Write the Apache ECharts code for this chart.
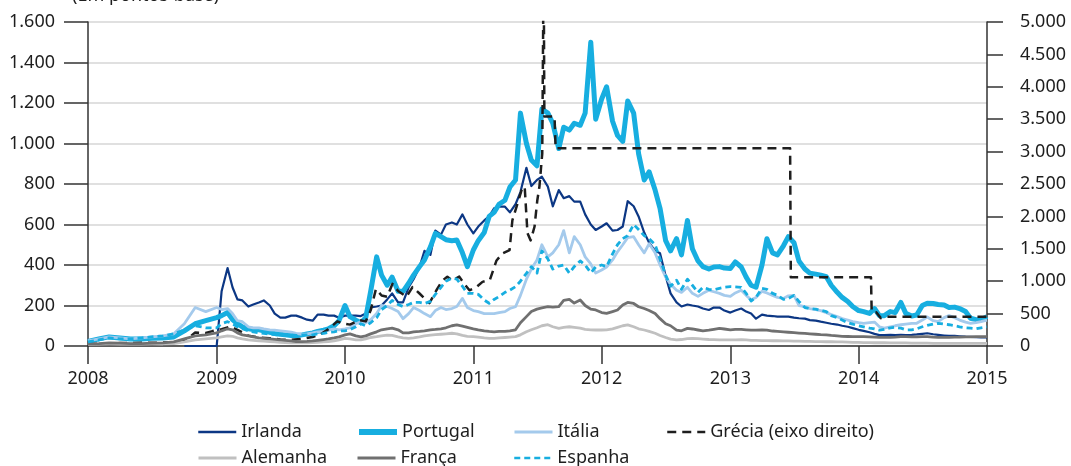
<!DOCTYPE html>
<html>
<head>
<meta charset="utf-8">
<script src="https://cdn.jsdelivr.net/npm/echarts@6/dist/echarts.min.js"></script>
<style>
html,body{margin:0;padding:0;background:#fff;}
#grafico{width:1071px;height:466px;}
</style>
</head>
<body>
<div id="grafico"></div>
<script>
// datas: mensal em 2008, quinzenal de 2009 a 2014, e 1/1/2015
var datas = [];
function dois(n){ return n < 10 ? '0' + n : '' + n; }
for (var m = 1; m <= 12; m++) datas.push('2008-' + dois(m) + '-01');
for (var a = 2009; a <= 2014; a++) {
	for (var m2 = 1; m2 <= 12; m2++) {
		datas.push(a + '-' + dois(m2) + '-01');
		datas.push(a + '-' + dois(m2) + '-15');
	}
}
datas.push('2015-01-01');

// valores em pontos base (eixo esquerdo)
var irlanda = [
	null,null,null,null,null,null,null,null,null,0,0,0,
	0,270,385,290,230,225,195,205,215,225,200,160,140,140,150,150,140,130,125,155,155,150,150,140,
	150,150,150,148,160,190,195,200,230,260,215,215,290,330,390,470,450,570,550,600,610,600,650,600,
	556,590,620,640,680,688,688,660,700,760,880,790,820,836,787,690,770,730,740,713,713,650,600,573,
	590,606,570,573,590,715,690,640,560,510,470,458,345,260,215,195,205,200,195,185,178,190,190,175,
	165,175,185,170,160,135,155,150,148,145,145,145,140,137,135,128,125,120,115,110,106,100,95,88,
	80,75,68,60,54,54,55,54,55,54,55,57,60,63,58,55,52,50,50,48,46,45,44,43,
	43
];
var portugal = [
	22,35,45,40,35,35,38,40,45,75,110,125,
	140,150,165,130,110,95,85,82,80,75,68,62,58,55,52,50,55,60,65,72,78,85,100,125,
	200,145,128,115,140,270,440,350,300,340,270,270,310,350,392,425,490,556,540,525,520,523,460,392,
	474,520,560,640,660,700,720,785,820,1150,1000,918,890,1170,1150,1100,975,1080,1066,1100,1090,1150,1500,1120,
	1220,1280,1110,1040,1010,1210,1150,950,820,860,770,680,520,470,530,450,620,480,420,392,380,390,392,385,
	383,415,390,340,300,290,400,530,460,450,495,540,510,420,380,360,355,350,342,300,265,240,220,195,
	175,170,161,185,150,150,170,165,215,161,148,153,200,211,210,205,202,190,192,185,170,137,130,130,
	145
];
var italia = [
	25,35,45,40,35,40,45,50,60,110,190,170,
	190,180,185,160,125,120,95,90,90,85,80,78,75,72,68,62,58,60,65,70,72,78,85,80,
	85,90,110,120,115,130,160,200,195,185,170,135,160,190,175,160,145,175,190,180,185,195,235,190,
	175,170,160,160,160,165,170,185,194,250,330,380,425,500,440,460,500,570,460,540,500,440,405,360,
	375,390,425,465,500,535,540,500,460,505,460,400,340,305,275,265,290,260,245,260,275,268,260,250,
	245,262,275,250,228,240,270,262,250,240,235,248,250,200,195,185,180,175,165,155,145,135,128,120,
	115,112,115,118,95,88,95,100,105,108,112,112,128,143,125,120,140,150,140,128,118,112,115,120,
	128
];
var alemanha = [
	8,9,10,10,9,9,10,10,12,20,30,35,
	40,45,50,48,40,35,30,28,25,24,22,20,18,17,16,15,15,16,17,18,20,22,25,30,
	38,35,30,30,35,42,46,50,54,52,45,40,38,40,45,50,54,56,58,60,63,60,52,48,
	46,44,40,38,38,40,42,44,46,55,70,80,90,100,105,95,87,92,95,92,88,82,80,79,
	79,80,85,92,100,104,95,85,79,72,63,52,42,34,30,32,36,38,36,34,32,31,30,30,
	30,30,31,30,28,28,27,27,26,26,25,25,24,24,23,23,22,22,21,21,20,20,19,18,
	18,17,17,16,16,16,15,15,15,15,14,14,14,14,13,13,13,13,13,13,13,13,13,13,
	13
];
var franca = [
	10,12,15,14,12,12,14,15,20,35,50,55,
	65,75,85,80,65,55,50,45,40,38,35,33,30,28,25,22,22,23,25,28,32,35,40,45,
	55,60,50,45,50,60,70,80,85,88,80,65,65,70,72,75,80,82,85,90,100,104,98,92,
	85,80,75,72,70,72,72,75,80,115,145,170,182,188,194,192,194,225,230,212,227,200,182,178,
	165,161,170,178,202,215,210,194,185,175,160,135,110,100,78,75,87,84,79,75,78,82,87,84,
	80,82,82,80,78,78,80,78,74,72,70,68,66,64,62,60,58,56,55,52,50,48,47,46,
	46,46,45,44,43,43,43,44,46,46,45,45,46,46,44,43,43,43,44,44,45,45,46,46,
	46
];
var espanha = [
	20,30,40,35,35,40,45,50,60,80,100,90,
	90,110,120,110,95,85,75,70,65,62,58,56,55,55,55,52,55,55,55,60,62,68,70,75,
	75,80,95,110,100,115,140,180,200,225,205,195,205,215,215,210,220,255,290,320,335,330,295,260,
	260,255,227,211,230,244,265,276,293,320,359,392,360,470,430,380,395,400,360,392,420,400,362,390,
	400,392,455,500,530,545,600,575,545,530,500,430,350,295,325,280,330,300,265,290,280,278,285,290,
	293,292,290,260,222,240,285,280,260,250,230,235,250,220,190,185,182,176,170,150,140,128,115,108,
	100,95,88,85,78,82,90,92,88,80,80,85,95,102,108,112,108,105,100,95,90,88,85,90,
	95
];

// Grécia no eixo direito, com as suas próprias datas
var greciaDatas = [
	'2008-01-01','2008-04-01','2008-07-01','2008-09-15','2008-10-15','2008-11-01','2008-12-01','2008-12-20',
	'2009-01-15','2009-02-10','2009-03-01','2009-04-01','2009-05-01','2009-06-01','2009-07-01','2009-08-01',
	'2009-09-01','2009-10-01','2009-10-20','2009-11-15','2009-12-10','2009-12-25',
	'2010-01-15','2010-02-10','2010-03-01','2010-03-15','2010-03-30','2010-04-15','2010-05-01','2010-05-16',
	'2010-06-01','2010-06-25','2010-07-12','2010-08-01','2010-08-29','2010-09-18','2010-10-05','2010-10-19',
	'2010-11-02','2010-11-22','2010-12-06','2010-12-21',
	'2011-01-10','2011-01-27','2011-02-17','2011-03-08','2011-03-25','2011-04-14','2011-04-22','2011-05-04',
	'2011-05-18','2011-05-27','2011-06-04','2011-06-13','2011-06-24','2011-07-02','2011-07-08','2011-07-16',
	'2011-07-20','2011-07-22','2011-08-20','2011-08-23',
	'2013-06-20','2013-06-22','2014-02-05','2014-02-07','2014-02-20','2014-03-05','2014-03-20','2015-01-01'
];
var greciaValores = [
	30,45,50,60,130,210,200,230,
	260,300,250,160,130,120,100,95,
	110,140,170,260,380,350,
	330,400,380,550,880,780,760,960,
	850,760,910,810,660,860,1010,1070,
	1010,1070,960,860,
	910,990,1020,1320,1430,1480,1940,2150,
	2400,2460,1740,1630,1840,2250,2460,2970,
	6000,3540,3540,3050,
	3050,1060,1060,530,520,430,450,450
];

var eixoEsq = [0, 1600, 200];
var eixoDir = [0, 5000, 500];

function pares(ds, vs){
	var r = [];
	for (var i = 0; i < ds.length; i++) r.push([ds[i], vs[i]]);
	return r;
}
function milhares(v){
	return String(v).replace(/\B(?=(\d{3})+(?!\d))/g, '.');
}

var fonte = '"Noto Sans", "Open Sans", sans-serif';
var corTexto = '#1e1e1e';

var grafico = echarts.init(document.getElementById('grafico'));

function linha(nome, dados, cor, largura, tipo, eixo){
	return {
		name: nome,
		type: 'line',
		yAxisIndex: eixo || 0,
		data: dados,
		symbol: 'none',
		showSymbol: false,
		lineStyle: {color: cor, width: largura, type: tipo || 'solid', cap: 'butt', join: 'round'},
		itemStyle: {color: cor},
		emphasis: {disabled: true},
		z: 2
	};
}

// uma legenda por item, para alinhar em colunas como no original
function legenda(nome, esq, topo, largura){
	var l = {
		data: [nome],
		left: esq - 5,
		top: topo,
		itemWidth: 38,
		itemHeight: 14,
		selectedMode: false,
		itemStyle: {opacity: 0},
		textStyle: {fontFamily: fonte, fontSize: 18, color: corTexto}
	};
	if (largura) l.lineStyle = {width: largura};
	return l;
}

var option = {
	animation: false,
	backgroundColor: '#fff',
	textStyle: {fontFamily: fonte},
	graphic: [{
		type: 'text',
		left: 72,
		top: -13,
		style: {text: '(Em pontos-base)', font: '18px ' + fonte, fill: corTexto}
	}],
	grid: {left: 88, right: 84, top: 22, bottom: 120},
	legend: [
		legenda('Irlanda', 197, 418, 2.5),
		legenda('Portugal', 356, 418, 6),
		legenda('Itália', 513, 418, 3),
		legenda('Grécia (eixo direito)', 666, 418, 2.5),
		legenda('Alemanha', 197, 444, 3),
		legenda('França', 356, 444, 3),
		legenda('Espanha', 513, 444, 2.5)
	],
	xAxis: {
		type: 'time',
		min: '2008-01-01',
		max: '2015-01-01',
		minInterval: 365 * 24 * 3600 * 1000,
		maxInterval: 366 * 24 * 3600 * 1000,
		axisLine: {lineStyle: {color: '#333', width: 1.5}},
		axisTick: {show: true, length: 18, lineStyle: {color: '#333', width: 1.5}},
		axisLabel: {
			margin: 24,
			fontSize: 18,
			color: corTexto,
			fontFamily: fonte,
			showMinLabel: true,
			showMaxLabel: true,
			formatter: function(v){ return String(new Date(v).getFullYear()); }
		},
		splitLine: {show: false}
	},
	yAxis: [
		{
			type: 'value',
			min: eixoEsq[0],
			max: eixoEsq[1],
			interval: eixoEsq[2],
			axisLine: {show: true, lineStyle: {color: '#333', width: 1.5}},
			axisTick: {show: true, length: 24, lineStyle: {color: '#333', width: 1.5}},
			axisLabel: {margin: 33, fontSize: 18, color: corTexto, fontFamily: fonte, formatter: milhares},
			splitLine: {show: true, lineStyle: {color: '#d6d6d6', width: 1.5}}
		},
		{
			type: 'value',
			position: 'right',
			min: eixoDir[0],
			max: eixoDir[1],
			interval: eixoDir[2],
			axisLine: {show: true, lineStyle: {color: '#333', width: 1.5}},
			axisTick: {show: true, length: 16, lineStyle: {color: '#333', width: 1.5}},
			axisLabel: {margin: 33, fontSize: 18, color: corTexto, fontFamily: fonte, formatter: milhares},
			splitLine: {show: false}
		}
	],
	series: [
		linha('Irlanda', pares(datas, irlanda), '#0c3784', 2.2),
		linha('Portugal', pares(datas, portugal), '#17aee0', 5),
		linha('Itália', pares(datas, italia), '#a4caec', 2.8),
		linha('Grécia (eixo direito)', pares(greciaDatas, greciaValores), '#1e1e1e', 2.5, [9, 6], 1),
		linha('Alemanha', pares(datas, alemanha), '#c0c0c0', 2.8),
		linha('França', pares(datas, franca), '#707070', 2.8),
		linha('Espanha', pares(datas, espanha), '#17aee0', 2.8, [6, 4])
	]
};

grafico.setOption(option);
</script>
</body>
</html>
